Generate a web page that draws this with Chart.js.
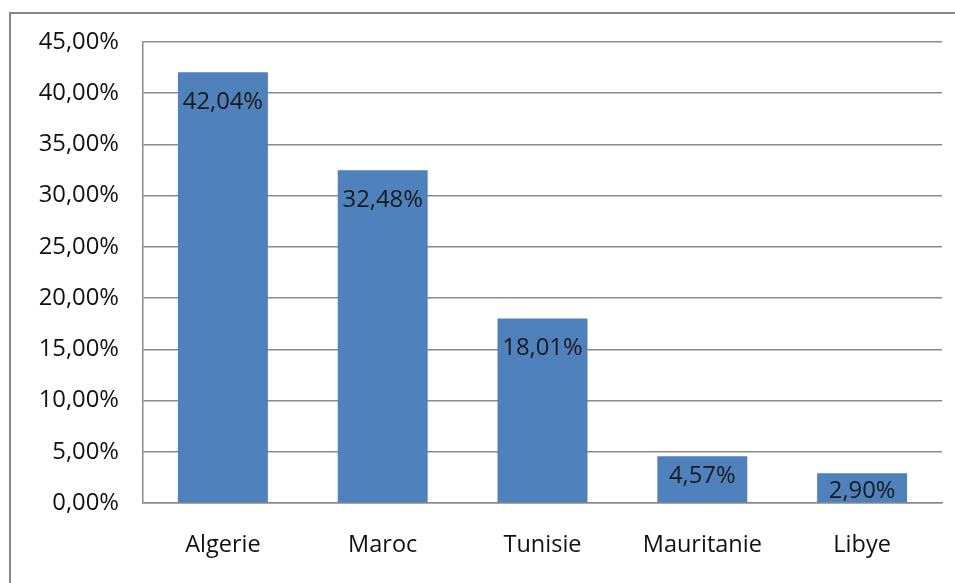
<!DOCTYPE html>
<html><head><meta charset="utf-8">
<script src="https://cdn.jsdelivr.net/npm/chart.js@4.4.0/dist/chart.umd.min.js"></script>
<style>html,body{margin:0;padding:0;background:#fff;}#wrap{width:955px;height:583px;position:relative;}</style>
</head><body><div id="wrap"><canvas id="c" width="955" height="583"></canvas></div>
<script>
const categories = ["Algerie", "Maroc", "Tunisie", "Mauritanie", "Libye"];
const values = [42.04, 32.48, 18.01, 4.57, 2.90];
const valueLabels = ["42,04%", "32,48%", "18,01%", "4,57%", "2,90%"];
const yTickLabels = ["0,00%", "5,00%", "10,00%", "15,00%", "20,00%", "25,00%", "30,00%", "35,00%", "40,00%", "45,00%"];

const FONT = "'Open Sans', 'Liberation Sans', sans-serif";
const GRID = '#8a8a8a';

const framePlugin = {
  id: 'frame',
  beforeDraw(chart) {
    const ctx = chart.ctx;
    ctx.save();
    ctx.fillStyle = '#fff';
    ctx.fillRect(0, 0, chart.width, chart.height);
    ctx.strokeStyle = '#878787';
    ctx.lineWidth = 2;
    ctx.beginPath();
    ctx.moveTo(10, chart.height);
    ctx.lineTo(10, 13);
    ctx.lineTo(chart.width, 13);
    ctx.stroke();
    ctx.restore();
  }
};

const labelPlugin = {
  id: 'barLabels',
  afterDatasetsDraw(chart) {
    const ctx = chart.ctx;
    const meta = chart.getDatasetMeta(0);
    ctx.save();
    ctx.font = "23.8px " + FONT;
    ctx.fillStyle = '#1a1a1a';
    ctx.textAlign = 'center';
    ctx.textBaseline = 'middle';
    meta.data.forEach((bar, i) => {
      const h = bar.base - bar.y;
      const off = Math.min(30, Math.max(18, h * 0.44));
      ctx.fillText(valueLabels[i], bar.x, bar.y + off);
    });
    ctx.restore();
  }
};

new Chart(document.getElementById('c'), {
  type: 'bar',
  data: {
    labels: categories,
    datasets: [{
      data: values,
      backgroundColor: '#4F81BD',
      borderWidth: 0,
      barPercentage: 0.563,
      categoryPercentage: 1.0
    }]
  },
  options: {
    responsive: false,
    animation: false,
    devicePixelRatio: 1,
    layout: { padding: { left: 0, right: 13, top: 42, bottom: 0 } },
    plugins: { legend: { display: false }, tooltip: { enabled: false } },
    scales: {
      x: {
        grid: { display: false, drawTicks: false },
        border: { color: GRID, width: 1.5 },
        ticks: { color: '#111', font: { family: FONT, size: 23.5 }, padding: 28 },
        afterFit(s) { s.height = 80; }
      },
      y: {
        min: 0, max: 45,
        grid: { color: GRID, lineWidth: 1.5, drawTicks: false },
        border: { color: GRID, width: 1.5 },
        ticks: {
          stepSize: 5,
          color: '#111',
          font: { family: FONT, size: 23.8 },
          padding: 24,
          callback: (v, i) => yTickLabels[i]
        },
        afterFit(s) { s.width = 143; }
      }
    }
  },
  plugins: [framePlugin, labelPlugin]
});
</script></body></html>
